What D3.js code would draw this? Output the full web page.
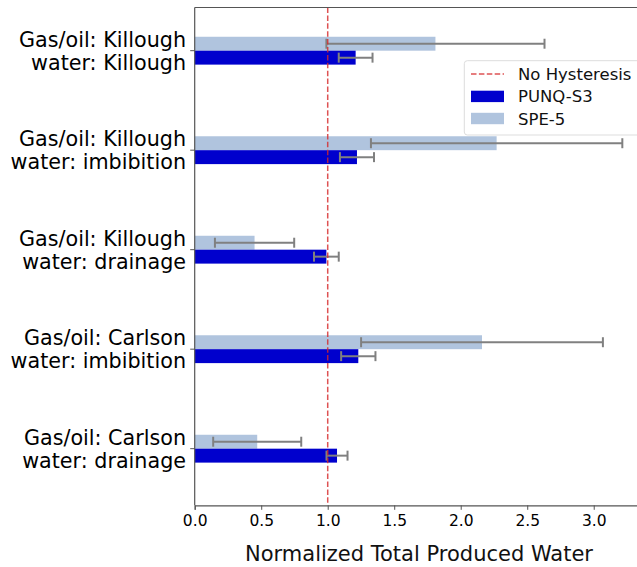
<!DOCTYPE html>
<html>
<head>
<meta charset="utf-8">
<script src="https://cdn.jsdelivr.net/npm/d3@7"></script>
<style>
  html, body { margin: 0; padding: 0; background: #fff; }
  svg { display: block; font-family: "DejaVu Sans", sans-serif; }
</style>
</head>
<body>
<svg id="chart" width="637" height="567"></svg>
<script>
// Hysteresis model combinations (top to bottom)
const categories = [
  ["Gas/oil: Killough", "water: Killough"],
  ["Gas/oil: Killough", "water: imbibition"],
  ["Gas/oil: Killough", "water: drainage"],
  ["Gas/oil: Carlson", "water: imbibition"],
  ["Gas/oil: Carlson", "water: drainage"]
];
// Normalized total produced water, mean and error half-width
const punqValues = [1.21, 1.22, 0.99, 1.23, 1.07];
const punqErrors = [0.127, 0.128, 0.093, 0.129, 0.079];
const speValues = [1.81, 2.27, 0.45, 2.16, 0.47];
const speErrors = [0.82, 0.945, 0.298, 0.909, 0.331];
const xTicks = [0, 0.5, 1.0, 1.5, 2.0, 2.5, 3.0];
const referenceValue = 1.0;
const seriesNames = ["No Hysteresis", "PUNQ-S3", "SPE-5"];

const colors = { punq: "#0000cd", spe: "#b0c4de", err: "#808080", ref: "#d62728", spine: "#555" };

const svg = d3.select("#chart");
const plotLeft = 194.7, plotRight = 644.8, plotTop = 7.5, plotBottom = 505.3;

const x = d3.scaleLinear().domain([0, 3.384]).range([plotLeft, plotRight]);
const y = d3.scaleLinear().domain([-0.434, 4.569]).range([plotTop, plotBottom]);
const barH = 0.14;

const plot = svg.append("g");

// SPE-5 bars sit above the category line, PUNQ-S3 bars below it
plot.selectAll("rect.spe").data(speValues).join("rect")
  .attr("class", "spe")
  .attr("x", x(0))
  .attr("y", (d, i) => y(i - barH))
  .attr("width", d => x(d) - x(0))
  .attr("height", y(barH) - y(0))
  .attr("fill", colors.spe);

plot.selectAll("rect.punq").data(punqValues).join("rect")
  .attr("class", "punq")
  .attr("x", x(0))
  .attr("y", (d, i) => y(i))
  .attr("width", d => x(d) - x(0))
  .attr("height", y(barH) - y(0))
  .attr("fill", colors.punq);

// Error bars with caps
function errorBars(values, errors, offset) {
  const g = plot.append("g").attr("stroke", colors.err).attr("stroke-width", 2);
  values.forEach((v, i) => {
    const cy = y(i + offset);
    const x0 = x(v - errors[i]), x1 = x(v + errors[i]);
    g.append("line").attr("x1", x0).attr("x2", x1).attr("y1", cy).attr("y2", cy);
    [x0, x1].forEach(cx => g.append("line")
      .attr("x1", cx).attr("x2", cx).attr("y1", cy - 5).attr("y2", cy + 5));
  });
}
errorBars(speValues, speErrors, -barH / 2);
errorBars(punqValues, punqErrors, barH / 2);

// Reference line at 1.0
plot.append("line")
  .attr("x1", x(referenceValue)).attr("x2", x(referenceValue))
  .attr("y1", plotTop).attr("y2", plotBottom)
  .attr("stroke", colors.ref).attr("stroke-opacity", 0.8)
  .attr("stroke-width", 1.5).attr("stroke-dasharray", "5.5,2.4");

// Spines
svg.append("line").attr("x1", plotLeft).attr("x2", plotLeft).attr("y1", plotTop).attr("y2", plotBottom)
  .attr("stroke", colors.spine).attr("stroke-width", 1.2);
svg.append("line").attr("x1", plotLeft).attr("x2", 637).attr("y1", plotTop).attr("y2", plotTop)
  .attr("stroke", colors.spine).attr("stroke-width", 1.2);

// X axis
const xAxis = d3.axisBottom(x).tickValues(xTicks).tickFormat(d3.format(".1f")).tickSize(4.5).tickPadding(5);
const gx = svg.append("g").attr("transform", `translate(0,${plotBottom})`).call(xAxis);
gx.select(".domain").attr("stroke", colors.spine).attr("stroke-width", 1.2);
gx.selectAll(".tick line").attr("stroke", colors.spine);
gx.selectAll(".tick text").attr("font-size", 15.5).attr("fill", "#000")
  .attr("font-family", "DejaVu Sans");

svg.append("text")
  .attr("x", 419).attr("y", 561)
  .attr("text-anchor", "middle")
  .attr("font-size", 21)
  .attr("fill", "#111")
  .text("Normalized Total Produced Water");

// Y ticks and two-line labels
const gy = svg.append("g");
categories.forEach((lines, i) => {
  const cy = y(i);
  gy.append("line").attr("x1", plotLeft - 4.5).attr("x2", plotLeft).attr("y1", cy).attr("y2", cy)
    .attr("stroke", colors.spine);
  const t = gy.append("text")
    .attr("x", 186).attr("text-anchor", "end")
    .attr("font-size", 20.7).attr("fill", "#000");
  t.append("tspan").attr("x", 186).attr("y", cy - 4).text(lines[0]);
  t.append("tspan").attr("x", 186).attr("y", cy + 19.3).text(lines[1]);
});

// Legend
const lg = svg.append("g");
lg.append("rect")
  .attr("x", 464.3).attr("y", 60.7).attr("width", 190).attr("height", 74.3)
  .attr("rx", 3).attr("fill", "#fff").attr("fill-opacity", 0.85)
  .attr("stroke", "#ddd").attr("stroke-width", 1);
const rows = [74, 96.4, 118.5];
lg.append("line").attr("x1", 471).attr("x2", 504).attr("y1", rows[0]).attr("y2", rows[0])
  .attr("stroke", colors.ref).attr("stroke-opacity", 0.8)
  .attr("stroke-width", 1.5).attr("stroke-dasharray", "5.5,2.4");
lg.append("rect").attr("x", 471).attr("y", rows[1] - 5.7).attr("width", 33).attr("height", 11.4)
  .attr("fill", colors.punq);
lg.append("rect").attr("x", 471).attr("y", rows[2] - 5.7).attr("width", 33).attr("height", 11.4)
  .attr("fill", colors.spe);
seriesNames.forEach((name, i) => {
  lg.append("text").attr("x", 518).attr("y", rows[i] + 6)
    .attr("font-size", 16.5).attr("fill", "#111").text(name);
});
</script>
</body>
</html>
